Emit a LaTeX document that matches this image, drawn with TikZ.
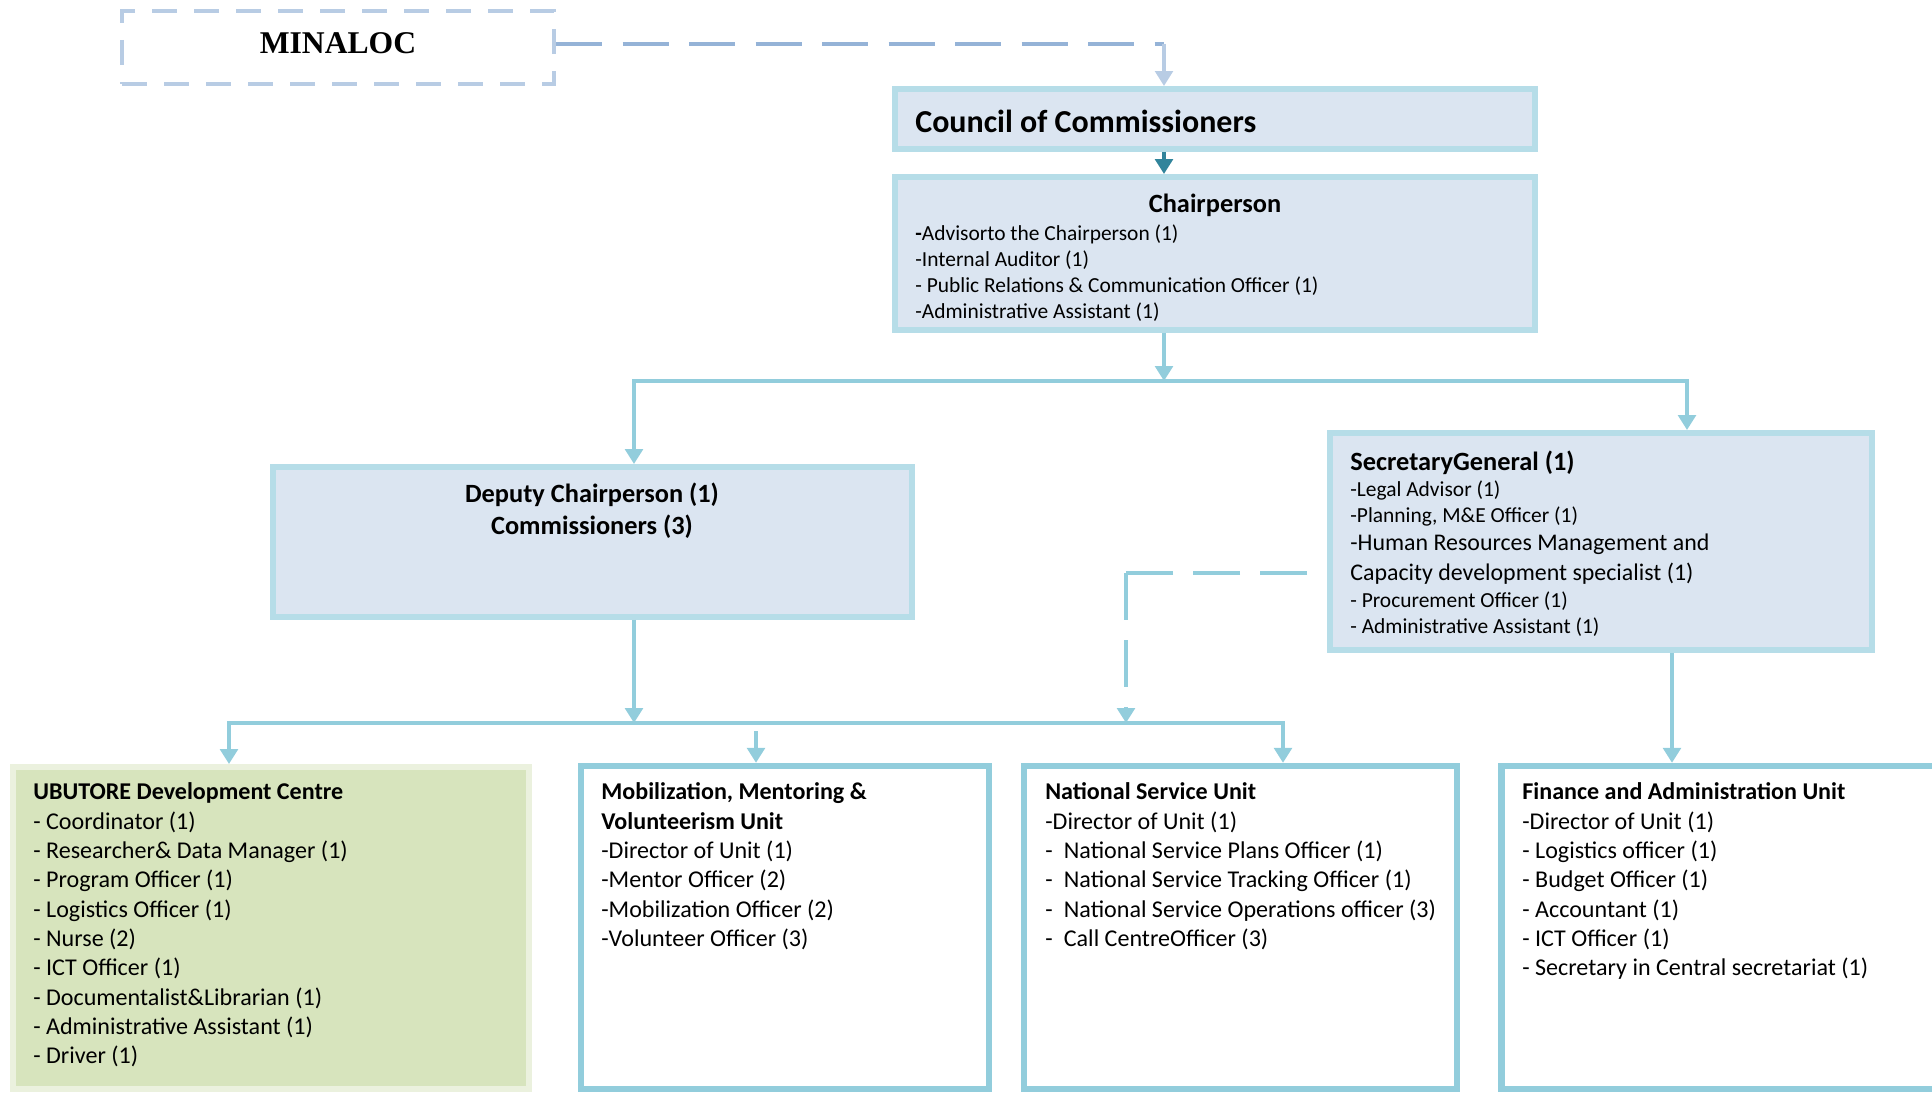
\documentclass[tikz,border=0pt]{standalone}
\usepackage{fontspec}
\setmainfont{Carlito}
\newfontfamily\minafont{Liberation Serif}
\usepackage{xcolor}
\usetikzlibrary{arrows.meta}
\definecolor{boxfill}{HTML}{DBE5F1}
\definecolor{boxline}{HTML}{B6DDE8}
\definecolor{connline}{HTML}{92CDDC}
\definecolor{darkarrow}{HTML}{31849B}
\definecolor{minaline}{HTML}{B8CCE4}
\definecolor{minaconn}{HTML}{95B3D7}
\definecolor{ubufill}{HTML}{D7E4BD}
\definecolor{ubuline}{HTML}{EBF1DE}
\tikzset{>={Triangle[width=10pt,length=8.5pt]}}
\tikzset{
  box/.style={draw=boxline, fill=boxfill, line width=3.4pt, rectangle, inner sep=0pt},
  unitbox/.style={draw=connline, fill=white, line width=3.6pt, rectangle, inner sep=0pt},
  conn/.style={line width=2.8pt, color=connline},
  dashconn/.style={conn, dash pattern=on 0.94cm off 0.4cm},
  txt/.style={anchor=north west, inner sep=0pt, align=left},
  unittxt/.style={txt, font=\fontsize{13.7}{16.7}\selectfont}
}

\begin{document}
\begin{tikzpicture}
\useasboundingbox (0,0) rectangle (38.64,-21.94);

\coordinate (spine) at (23.28,0);
\coordinate (deptap) at (12.68,0);
\coordinate (sgtap) at (33.74,0);
\coordinate (ubutap) at (4.58,0);
\coordinate (nsutap) at (25.66,0);
\coordinate (dashtap) at (22.52,0);
\coordinate (fintap) at (33.44,0);
\coordinate (busA) at (0,-7.62);
\coordinate (busB) at (0,-14.46);
\coordinate (mobtap) at (15.12,-14.62);
\coordinate (sgdash) at (26.14,-11.46);

\node[draw=minaline, line width=2.3pt, dash pattern=on 0.5cm off 0.34cm, minimum width=8.64cm, minimum height=1.46cm, inner sep=0pt] at (6.76,-0.95) (mina) {};
\node[font=\minafont\bfseries\fontsize{18}{22}\selectfont, inner sep=0pt] at (6.76,-0.86) (minatxt) {MINALOC};

\node[box, minimum width=12.8cm, minimum height=1.2cm] at (24.3,-2.38) (council) {};
\node[font=\bfseries\fontsize{18.2}{22}\selectfont, anchor=west, inner sep=0pt] at (18.3,-2.42) (counciltxt) {Council of Commissioners};

\node[box, minimum width=12.8cm, minimum height=3.06cm] at (24.3,-5.07) (chair) {};
\node[font=\bfseries\fontsize{15}{18}\selectfont, inner sep=0pt] at (24.3,-4.1) (chairhead) {Chairperson};
\node[txt, font=\fontsize{12.2}{14.8}\selectfont] at (18.3,-4.49) (chairlist) {{\bfseries -}Advisorto the Chairperson (1)\\-Internal Auditor (1)\\- Public Relations \& Communication Officer (1)\\-Administrative Assistant (1)};

\node[box, minimum width=12.78cm, minimum height=3.0cm] at (11.85,-10.84) (deputy) {};
\node[anchor=north, inner sep=0pt, align=center, font=\bfseries\fontsize{15}{18.2}\selectfont] at (11.84,-9.66) (deputytxt) {Deputy Chairperson (1)\\Commissioners (3)};

\node[box, minimum width=10.84cm, minimum height=4.34cm] at (32.02,-10.83) (sg) {};
\node[font=\bfseries\fontsize{15}{18}\selectfont, anchor=west, inner sep=0pt] at (27.0,-9.26) (sghead) {SecretaryGeneral (1)};
\node[txt, font=\fontsize{12.2}{14.8}\selectfont] at (27.0,-9.61) (sglista) {-Legal Advisor (1)\\-Planning, M\&E Officer (1)};
\node[txt, font=\fontsize{13.6}{17}\selectfont] at (27.0,-10.67) (sglistb) {-Human Resources Management and\\Capacity development specialist (1)};
\node[txt, font=\fontsize{12.2}{14.8}\selectfont] at (27.0,-11.83) (sglistc) {- Procurement Officer (1)\\- Administrative Assistant (1)};

\node[draw=ubuline, fill=ubufill, line width=3.4pt, minimum width=10.32cm, minimum height=6.44cm, inner sep=0pt] at (5.42,-18.56) (ubu) {};
\node[unittxt] at (0.66,-15.65) (ubutxt) {\textbf{UBUTORE Development Centre}\\- Coordinator (1)\\- Researcher\& Data Manager (1)\\- Program Officer (1)\\- Logistics Officer (1)\\- Nurse (2)\\- ICT Officer (1)\\- Documentalist\&Librarian (1)\\- Administrative Assistant (1)\\- Driver (1)};

\node[unitbox, minimum width=8.16cm, minimum height=6.46cm] at (15.7,-18.55) (mob) {};
\node[unittxt] at (12.02,-15.65) (mobtxt) {\textbf{Mobilization, Mentoring \&}\\\textbf{Volunteerism Unit}\\-Director of Unit (1)\\-Mentor Officer (2)\\-Mobilization Officer (2)\\-Volunteer Officer (3)};

\node[unitbox, minimum width=8.66cm, minimum height=6.46cm] at (24.81,-18.55) (nsu) {};
\node[unittxt] at (20.9,-15.65) (nsutxt) {\textbf{National Service Unit}\\-Director of Unit (1)\\\makebox[0.77em][l]{-}National Service Plans Officer (1)\\\makebox[0.77em][l]{-}National Service Tracking Officer (1)\\\makebox[0.77em][l]{-}National Service Operations officer (3)\\\makebox[0.77em][l]{-}Call CentreOfficer (3)};

\node[unitbox, minimum width=8.9cm, minimum height=6.46cm] at (34.48,-18.55) (fin) {};
\node[unittxt] at (30.44,-15.65) (fintxt) {\textbf{Finance and Administration Unit}\\-Director of Unit (1)\\- Logistics officer (1)\\- Budget Officer (1)\\- Accountant (1)\\- ICT Officer (1)\\- Secretary in Central secretariat (1)};

\draw[line width=2.8pt, minaconn, dash pattern=on 0.92cm off 0.41cm] ([yshift=2pt]mina.east) -- ([yshift=2pt]mina.east -| spine);
\draw[line width=2pt, minaline, ->] ([yshift=2pt]mina.east -| spine) -- (council.north -| spine);
\draw[line width=2.5pt, darkarrow, ->] (council.south -| spine) -- (chair.north -| spine);
\draw[conn, ->] (chair.south -| spine) -- (busA -| spine);
\draw[conn, <->] (deputy.north -| deptap) -- (busA -| deptap) -- (busA -| sgtap) -- (sg.north -| sgtap);
\draw[conn, ->] (deputy.south -| deptap) -- (busB -| deptap);
\draw[conn, <->] (ubu.north -| ubutap) -- (busB -| ubutap) -- (busB -| nsutap) -- (nsu.north -| nsutap);
\draw[conn, ->] (mobtap) -- (mob.north -| mobtap);
\draw[dashconn] (sgdash) -- (sgdash -| dashtap);
\draw[dashconn, ->] (sgdash -| dashtap) -- (busB -| dashtap);
\draw[conn, ->] (sg.south -| fintap) -- (fin.north -| fintap);
\end{tikzpicture}
\end{document}
